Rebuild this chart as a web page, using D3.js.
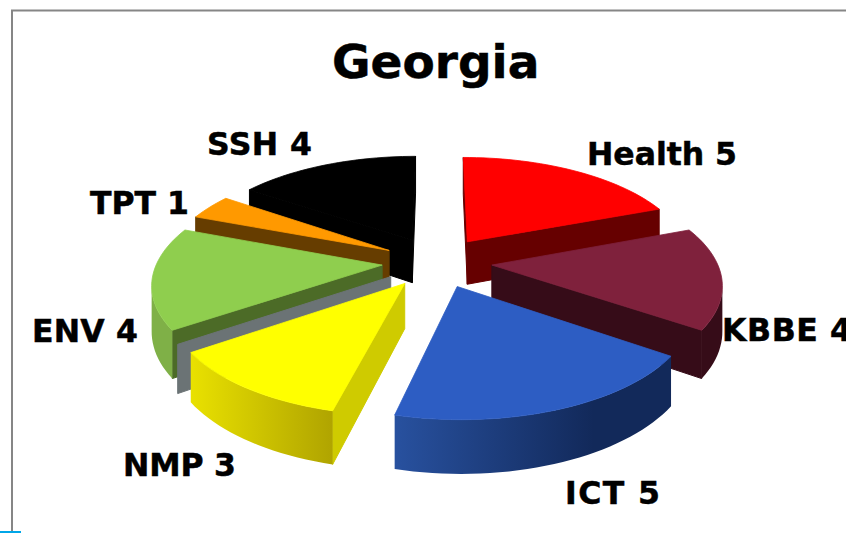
<!DOCTYPE html>
<html><head><meta charset="utf-8">
<script src="https://cdnjs.cloudflare.com/ajax/libs/d3/7.8.5/d3.min.js"></script>
<style>html,body{margin:0;padding:0;background:#fff;overflow:hidden}svg{display:block}text{font-family:"DejaVu Sans",sans-serif;font-weight:bold;fill:#000;stroke:#000;stroke-width:.5}</style>
</head><body><svg id="c" width="846" height="533"></svg>
<script>
const title = "Georgia";
const categories = ["Health","KBBE","ICT","NMP","Other","ENV","TPT","SSH"];
const values = [5,4,5,3,0,4,1,4];
const labelled = [true,true,true,true,false,true,true,true];
const topColors = ["#ff0000","#7f213c","#2d5dc3","#ffff00","#6b7375","#8fce4e","#ff9900","#000000"];
const cutColors = ["#660000","#360c18","#12295a","#cfcb00","#6b7375","#4c6b27","#663d00","#000000"];
const wallLeft = ["#660000","#360c18","#28519f","#e9e100","#6b7375","#7fb047","#663d00","#000000"];
const wallRight = ["#660000","#360c18","#12295a","#b0a400","#6b7375","#7fb047","#663d00","#000000"];
const wallStopEnd = [1,1,0.72,1,1,1,1,1];
const drawOrder = ["SSH","TPT","Health","KBBE","ENV","Other","NMP","ICT"];

// layout
const cx=437, cy=262, R=225, explode=55, height=50;
const tilt=0.46, depth=0.875, D=1250, zk=0.875;
const labelPos = {Health:[587,165],KBBE:[722,341],ICT:[565,504],NMP:[123,476],ENV:[32,342],TPT:[90,214],SSH:[207,155]};
const labelWidth = {Health:150,KBBE:130,ICT:95,NMP:113,ENV:106,TPT:99,SSH:105};

const svg=d3.select("#c");
const defs=svg.append("defs");
svg.append("path").attr("d","M12,533V10.5H846").attr("fill","none").attr("stroke","#868686").attr("stroke-width",2);
svg.append("rect").attr("x",0).attr("y",531).attr("width",21).attr("height",2).attr("fill","#00a6e8");

const pie=d3.pie().sort(null).value(d=>d.v).startAngle(0).endAngle(2*Math.PI);
const rows=categories.map((c,i)=>({c,i,v:values[i]}));
const arcs=pie(rows);
function project(x,y,z){const s=D/(D-y*depth);return [cx+x*s, cy+(y*tilt+z*zk)*s];}
const line=d3.line();
const area=d3.polygonArea;
function sliceGeom(a){
  const mid=(a.startAngle+a.endAngle)/2;
  const ox=explode*Math.sin(mid), oy=-explode*Math.cos(mid);
  const pt=(ang,r,z)=>project(ox+r*Math.sin(ang),oy-r*Math.cos(ang),z);
  return {pt};
}
const byName=new Map(arcs.map(a=>[a.data.c,a]));
drawOrder.forEach(name=>{
  const a=byName.get(name), i=a.data.i, g=svg.append("g"), {pt}=sliceGeom(a);
  const a0=a.startAngle,a1=a.endAngle;
  const steps=Math.max(1,Math.ceil((a1-a0)/(Math.PI/90)));
  const angs=d3.range(steps+1).map(k=>a0+(a1-a0)*k/steps);
  const startQ=[pt(a0,0,0),pt(a0,R,0),pt(a0,R,height),pt(a0,0,height)];
  const endQ=[pt(a1,R,0),pt(a1,0,0),pt(a1,0,height),pt(a1,R,height)];
  [startQ,endQ].forEach((q,k)=>{
    if(a0===a1 && k===1) return;
    if(area(q)>0){g.append("path").attr("d",line(q)+"Z").attr("fill",cutColors[i]).attr("stroke",cutColors[i]).attr("stroke-width",1);}
  });
  if(a1>a0){
    const vis=[];
    for(let k=0;k<steps;k++){
      const q=[pt(angs[k],R,0),pt(angs[k],R,height),pt(angs[k+1],R,height),pt(angs[k+1],R,0)];
      if(area(q)<0){ if(!vis.length) vis.push(angs[k]); vis.push(angs[k+1]); }
    }
    if(vis.length){
      const wall=[...vis.map(t=>pt(t,R,0)),...vis.slice().reverse().map(t=>pt(t,R,height))];
      const xs=d3.extent(wall,p=>p[0]), id="w"+i;
      const gr=defs.append("linearGradient").attr("id",id).attr("gradientUnits","userSpaceOnUse")
        .attr("x1",xs[0]).attr("x2",xs[1]).attr("y1",0).attr("y2",0);
      gr.append("stop").attr("offset",0).attr("stop-color",wallLeft[i]);
      gr.append("stop").attr("offset",wallStopEnd[i]).attr("stop-color",wallRight[i]);
      g.append("path").attr("d",line(wall)+"Z").attr("fill",`url(#${id})`);
    }
    const top=[pt(a0,0,0),...angs.map(t=>pt(t,R,0))];
    g.append("path").attr("d",line(top)+"Z").attr("fill",topColors[i]).attr("stroke",topColors[i]).attr("stroke-width",.8);
  }
});
svg.append("text").attr("x",332).attr("y",78).attr("font-size",47).text(title);
rows.filter((r,i)=>labelled[i]).forEach(r=>{
  const p=labelPos[r.c];
  svg.append("text").attr("x",p[0]).attr("y",p[1]).attr("font-size",31.5).attr("textLength",labelWidth[r.c]).attr("lengthAdjust","spacing").text(r.c+" "+r.v);
});
</script></body></html>
